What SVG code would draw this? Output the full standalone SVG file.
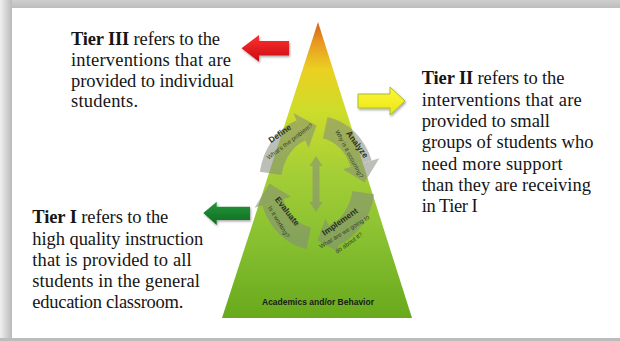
<svg xmlns="http://www.w3.org/2000/svg" width="620" height="341" viewBox="0 0 620 341">
  <defs>
    <linearGradient id="leftBand" x1="0" y1="0" x2="1" y2="0">
      <stop offset="0" stop-color="#f0f0f0"/>
      <stop offset="1" stop-color="#b9b9b9"/>
    </linearGradient>
    <linearGradient id="topBand" x1="0" y1="0" x2="0" y2="1">
      <stop offset="0" stop-color="#cfcfcf"/>
      <stop offset="1" stop-color="#bdbdbd"/>
    </linearGradient>
    <linearGradient id="pyr" gradientUnits="userSpaceOnUse" x1="0" y1="22" x2="0" y2="318">
      <stop offset="0" stop-color="#d4601a"/>
      <stop offset="0.07" stop-color="#e89a22"/>
      <stop offset="0.16" stop-color="#ebd021"/>
      <stop offset="0.3" stop-color="#cddc2a"/>
      <stop offset="0.5" stop-color="#a6cf36"/>
      <stop offset="0.75" stop-color="#86bf30"/>
      <stop offset="1" stop-color="#68a91c"/>
    </linearGradient>
    <linearGradient id="redG" x1="0" y1="0" x2="0" y2="1">
      <stop offset="0" stop-color="#ff3030"/>
      <stop offset="1" stop-color="#c80c12"/>
    </linearGradient>
    <linearGradient id="yelG" x1="0" y1="0" x2="0" y2="1">
      <stop offset="0" stop-color="#fbf73a"/>
      <stop offset="1" stop-color="#ece614"/>
    </linearGradient>
    <linearGradient id="grnG" x1="0" y1="0" x2="0" y2="1">
      <stop offset="0" stop-color="#23983a"/>
      <stop offset="1" stop-color="#0f6a22"/>
    </linearGradient>
    <filter id="shadow" x="-30%" y="-40%" width="160%" height="180%">
      <feDropShadow dx="1" dy="1.5" stdDeviation="1.2" flood-color="#000" flood-opacity="0.35"/>
    </filter>
  </defs>
  <style>
    .body { font-family: "Liberation Serif", "Times New Roman", serif; font-size: 18.5px; fill: #151515; }
    .b { font-weight: bold; }
    .ring { fill: none; stroke: #858c7e; stroke-width: 22; }
    .head { fill: #858c7e; }
    .ct { font-family: "Liberation Sans", Arial, sans-serif; font-weight: bold; font-size: 8.3px; fill: #26331a; text-anchor: middle; }
    .cs { font-family: "Liberation Sans", Arial, sans-serif; font-size: 6.1px; fill: #34422a; text-anchor: middle; }
  </style>

  <!-- frame -->
  <rect x="0" y="0" width="620" height="341" fill="#c2c2c2"/>
  <rect x="0" y="0" width="620" height="8" fill="url(#topBand)"/>
  <rect x="0" y="0" width="12" height="341" fill="url(#leftBand)"/>
  <rect x="0" y="338" width="620" height="3" fill="#bcbcbc"/>
  <rect x="12" y="8" width="608" height="330" fill="#ffffff"/>

  <!-- pyramid -->
  <g id="pyramid">
    <polygon points="318,22 412,318 222,318" fill="url(#pyr)"/>
    <text x="318" y="305" text-anchor="middle" font-family="Liberation Sans, Arial, sans-serif" font-weight="bold" font-size="8.5" fill="#1a1a1a" textLength="112" lengthAdjust="spacingAndGlyphs">Academics and/or Behavior</text>
  </g>

  <!-- problem solving cycle -->
  <g id="cycle">
    <g opacity="0.55">
      <path class="ring" d="M 270.7 173.3 A 47 56 0 0 1 300.9 130.4"/>
      <polygon class="head" points="293.3,113.0 316.5,125.5 308.5,147.8"/>
      <path class="ring" d="M 325.2 127.8 A 47 56 0 0 1 361.2 163.8"/>
      <polygon class="head" points="379.4,158.3 364.5,182.5 343.0,169.3"/>
      <path class="ring" d="M 363.3 192.7 A 47 56 0 0 1 333.1 235.6"/>
      <polygon class="head" points="340.7,253.0 317.5,240.5 325.5,218.2"/>
      <path class="ring" d="M 308.8 238.2 A 47 56 0 0 1 272.8 202.2"/>
      <polygon class="head" points="254.6,207.7 269.5,183.5 291.0,196.7"/>
      <polygon class="head" points="316,156 322.5,166 319.5,166 319.5,202 322.5,202 316,212 309.5,202 312.5,202 312.5,166 309.5,166"/>
    </g>
    <g id="define">
      <text class="ct" transform="translate(281.5,136) rotate(-35)">Define</text>
      <text class="cs" transform="translate(291,143) rotate(-37)">What's the problem?</text>
    </g>
    <g id="analyze">
      <text class="ct" transform="translate(355,146) rotate(54)">Analyze</text>
      <text class="cs" transform="translate(347.5,155) rotate(62)">Why is it occurring?</text>
    </g>
    <g id="evaluate">
      <text class="ct" transform="translate(285,213) rotate(52)">Evaluate</text>
      <text class="cs" transform="translate(277,223) rotate(59)">Is it working?</text>
    </g>
    <g id="implement">
      <text class="ct" transform="translate(341.5,224) rotate(-35)">Implement</text>
      <text class="cs" transform="translate(345.5,233.5) rotate(-32)">What are we going to</text>
      <text class="cs" transform="translate(350,244.5) rotate(-36)">do about it?</text>
    </g>
  </g>

  <!-- connectors: block arrows -->
  <g id="connectors" filter="url(#shadow)">
    <polygon points="241.5,48.3 259,35 259,41 289,41 289,55.5 259,55.5 259,61.7" fill="url(#redG)"/>
    <polygon points="358,94 390,94 390,87 405,101 390,115 390,108 358,108" fill="url(#yelG)" stroke="#a9bb32" stroke-width="1"/>
    <polygon points="203.3,213 216.7,201.7 216.7,206.7 250,206.7 250,220 216.7,220 216.7,225" fill="url(#grnG)"/>
  </g>

  <!-- Tier III text -->
  <g id="tier3">
    <text class="body" x="71" y="45" textLength="149" lengthAdjust="spacing"><tspan class="b">Tier III</tspan> refers to the</text>
    <text class="body" x="71" y="65.8" textLength="160" lengthAdjust="spacing">interventions that are</text>
    <text class="body" x="71" y="86.6" textLength="163" lengthAdjust="spacing">provided to individual</text>
    <text class="body" x="71" y="107.4" textLength="67" lengthAdjust="spacing">students.</text>
  </g>

  <!-- Tier II text -->
  <g id="tier2">
    <text class="body" x="421.7" y="84.3" textLength="142.7" lengthAdjust="spacing"><tspan class="b">Tier II</tspan> refers to the</text>
    <text class="body" x="421.7" y="105.6" textLength="160" lengthAdjust="spacing">interventions that are</text>
    <text class="body" x="421.7" y="126.9" textLength="128.3" lengthAdjust="spacing">provided to small</text>
    <text class="body" x="421.7" y="148.2" textLength="171.7" lengthAdjust="spacing">groups of students who</text>
    <text class="body" x="421.7" y="169.5" textLength="141" lengthAdjust="spacing">need more support</text>
    <text class="body" x="421.7" y="190.8" textLength="169.3" lengthAdjust="spacing">than they are receiving</text>
    <text class="body" x="421.7" y="212.1" textLength="56" lengthAdjust="spacing">in Tier I</text>
  </g>

  <!-- Tier I text -->
  <g id="tier1">
    <text class="body" x="32.3" y="223.3" textLength="136" lengthAdjust="spacing"><tspan class="b">Tier I</tspan> refers to the</text>
    <text class="body" x="32.3" y="244.5" textLength="171" lengthAdjust="spacing">high quality instruction</text>
    <text class="body" x="32.3" y="265.8" textLength="159.3" lengthAdjust="spacing">that is provided to all</text>
    <text class="body" x="32.3" y="287" textLength="167.7" lengthAdjust="spacing">students in the general</text>
    <text class="body" x="32.3" y="308.3" textLength="151" lengthAdjust="spacing">education classroom.</text>
  </g>
</svg>
